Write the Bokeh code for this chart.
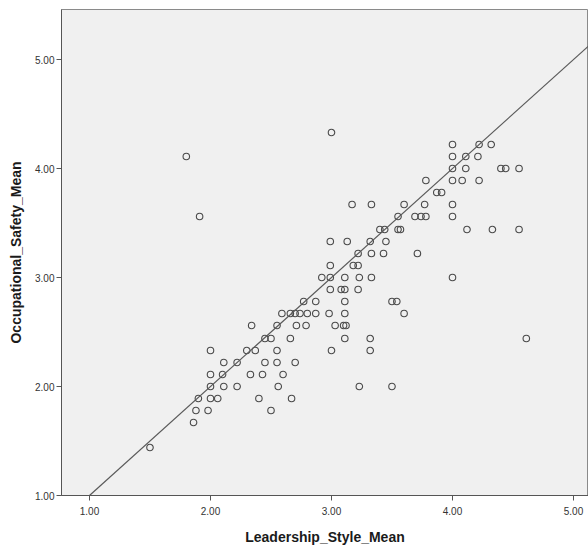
from bokeh.plotting import figure
from bokeh.models import Range1d, FixedTicker, Slope
from bokeh.embed import file_html
from bokeh.resources import INLINE

# ---- data ----
leadership = [
    3.00,
    4.00, 4.22, 4.32,
    1.80, 4.00, 4.11, 4.21,
    4.00, 4.11, 4.40, 4.44, 4.55,
    3.78, 4.00, 4.08, 4.22,
    3.87, 3.91,
    3.17, 3.33, 3.60, 3.77, 4.00,
    1.91, 3.55, 3.69, 3.74, 3.78, 4.00,
    3.40, 3.44, 3.55, 3.57, 4.12, 4.33, 4.55,
    2.99, 3.13, 3.32, 3.45,
    3.22, 3.33, 3.43, 3.71,
    2.99, 3.18, 3.22,
    2.92, 2.99, 3.11, 3.23, 3.33, 4.00,
    2.99, 3.08, 3.11, 3.22,
    2.77, 2.87, 3.11, 3.50, 3.54,
    2.59, 2.66, 2.70, 2.74, 2.80, 2.87, 2.98, 3.11, 3.60,
    2.34, 2.55, 2.71, 2.79, 3.03, 3.10, 3.12,
    2.45, 2.50, 2.66, 3.11, 3.32, 4.61,
    2.00, 2.30, 2.37, 2.55, 3.00, 3.32,
    2.11, 2.22, 2.45, 2.55, 2.70,
    2.00, 2.10, 2.33, 2.43, 2.60,
    2.00, 2.11, 2.22, 2.56, 3.23, 3.50,
    1.90, 2.00, 2.06, 2.40, 2.67,
    1.88, 1.98, 2.50,
    1.86,
    1.50,
]
safety = [
    4.33,
    4.22, 4.22, 4.22,
    4.11, 4.11, 4.11, 4.11,
    4.00, 4.00, 4.00, 4.00, 4.00,
    3.89, 3.89, 3.89, 3.89,
    3.78, 3.78,
    3.67, 3.67, 3.67, 3.67, 3.67,
    3.56, 3.56, 3.56, 3.56, 3.56, 3.56,
    3.44, 3.44, 3.44, 3.44, 3.44, 3.44, 3.44,
    3.33, 3.33, 3.33, 3.33,
    3.22, 3.22, 3.22, 3.22,
    3.11, 3.11, 3.11,
    3.00, 3.00, 3.00, 3.00, 3.00, 3.00,
    2.89, 2.89, 2.89, 2.89,
    2.78, 2.78, 2.78, 2.78, 2.78,
    2.67, 2.67, 2.67, 2.67, 2.67, 2.67, 2.67, 2.67, 2.67,
    2.56, 2.56, 2.56, 2.56, 2.56, 2.56, 2.56,
    2.44, 2.44, 2.44, 2.44, 2.44, 2.44,
    2.33, 2.33, 2.33, 2.33, 2.33, 2.33,
    2.22, 2.22, 2.22, 2.22, 2.22,
    2.11, 2.11, 2.11, 2.11, 2.11,
    2.00, 2.00, 2.00, 2.00, 2.00, 2.00,
    1.89, 1.89, 1.89, 1.89, 1.89,
    1.78, 1.78, 1.78,
    1.67,
    1.44,
]
tick_values = [1, 2, 3, 4, 5]
tick_labels = ["1.00", "2.00", "3.00", "4.00", "5.00"]
fit_intercept = 0.0
fit_slope = 1.0

FONT = "Liberation Sans"

p = figure(
    width=588, height=548,
    x_range=Range1d(0.7686, 5.124),
    y_range=Range1d(1.0, 5.459),
    output_backend="svg", toolbar_location=None,
    min_border_left=61, min_border_right=0,
    min_border_top=9, min_border_bottom=53,
)
p.background_fill_color = "#f0f0f0"
p.border_fill_color = "white"
p.outline_line_color = "#8a8a8a"
p.outline_line_width = 1
p.grid.visible = False

p.add_layout(Slope(gradient=fit_slope, y_intercept=fit_intercept,
                   line_color="#5a5a5a", line_width=1.2))

p.scatter(leadership, safety, marker="circle", size=6.5,
          fill_color=None, line_color="#4a4a4a", line_width=1.1)

for ax in (p.xaxis[0], p.yaxis[0]):
    ax.ticker = FixedTicker(ticks=tick_values)
    ax.major_label_overrides = {v: l for v, l in zip(tick_values, tick_labels)}
    ax.minor_tick_line_color = None
    ax.major_tick_in = 0
    ax.major_tick_out = 5
    ax.axis_line_color = "#555555"
    ax.major_tick_line_color = "#555555"
    ax.major_label_text_font = FONT
    ax.major_label_text_font_size = "10px"
    ax.major_label_text_color = "#333333"
    ax.axis_label_text_font = FONT
    ax.axis_label_text_font_size = "14px"
    ax.axis_label_text_font_style = "bold"
    ax.axis_label_text_color = "#1a1a1a"

p.xaxis.axis_label = "Leadership_Style_Mean"
p.yaxis.axis_label = "Occupational_Safety_Mean"
p.xaxis.major_label_standoff = 6
p.yaxis.major_label_standoff = 2
p.xaxis.axis_label_standoff = 11
p.yaxis.axis_label_standoff = 8

open("out.html", "w").write(file_html(p, INLINE))
